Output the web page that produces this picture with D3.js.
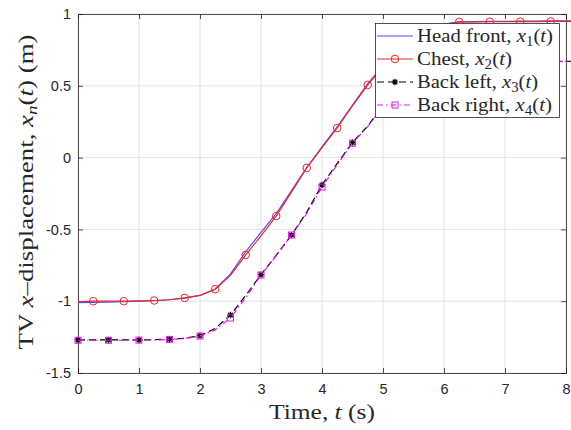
<!DOCTYPE html>
<html>
<head>
<meta charset="utf-8">
<script src="https://cdn.jsdelivr.net/npm/d3@7"></script>
<style>
  body { margin: 0; background: #fff; }
  svg { display: block; }
</style>
</head>
<body>
<svg id="chart"></svg>
<script>
// sample times (s); last point runs just past the axis edge like the original
const times = [0, 0.25, 0.5, 0.75, 1, 1.25, 1.5, 1.75, 2, 2.25, 2.5, 2.75, 3, 3.25, 3.5, 3.75,
  4, 4.25, 4.5, 4.75, 5, 5.25, 5.5, 5.75, 6, 6.25, 6.5, 6.75, 7, 7.25, 7.5, 7.75, 8, 8.1];

const headFront = [-1.01, -1.008, -1.006, -1.004, -1.0, -0.997, -0.99, -0.978, -0.96, -0.915, -0.81, -0.655,
  -0.52, -0.39, -0.23, -0.07, 0.075, 0.215, 0.365, 0.515, 0.64, 0.75, 0.835, 0.895, 0.93, 0.945,
  0.947, 0.948, 0.949, 0.95, 0.951, 0.952, 0.952, 0.952];
const chest = [-1.005, -1.0, -1.0, -1.0, -0.998, -0.995, -0.99, -0.977, -0.96, -0.916, -0.82, -0.678,
  -0.545, -0.407, -0.24, -0.072, 0.07, 0.206, 0.36, 0.506, 0.63, 0.74, 0.83, 0.89, 0.925, 0.945,
  0.945, 0.946, 0.946, 0.947, 0.947, 0.948, 0.948, 0.948];
const backLeft = [-1.27, -1.27, -1.27, -1.27, -1.27, -1.268, -1.265, -1.258, -1.24, -1.19, -1.096, -0.96,
  -0.815, -0.68, -0.54, -0.38, -0.19, -0.04, 0.105, 0.22, 0.36, 0.47, 0.56, 0.62, 0.655, 0.665,
  0.67, 0.67, 0.67, 0.67, 0.67, 0.67, 0.67, 0.67];
const backRight = [-1.272, -1.272, -1.272, -1.272, -1.271, -1.27, -1.266, -1.26, -1.243, -1.2, -1.117, -0.975,
  -0.818, -0.685, -0.539, -0.39, -0.205, -0.05, 0.1, 0.215, 0.355, 0.465, 0.555, 0.615, 0.65, 0.66,
  0.668, 0.668, 0.668, 0.668, 0.668, 0.668, 0.668, 0.668];

const xTicks = [0, 1, 2, 3, 4, 5, 6, 7, 8];
const yTicks = [-1.5, -1, -0.5, 0, 0.5, 1];

const series = [
  {name: "Head front, ", sub: "1", values: headFront, color: "#4d4dff", dash: null, marker: null, phase: 0, w: 136},
  {name: "Chest, ", sub: "2", values: chest, color: "#e8262b", dash: null, marker: "circle", phase: 1, w: 95},
  {name: "Back left, ", sub: "3", values: backLeft, color: "#000000", dash: "7,4", marker: "star", phase: 0, w: 121},
  {name: "Back right, ", sub: "4", values: backRight, color: "#e619e6", dash: "6,3,1.5,3", marker: "square", phase: 0, w: 135}
];

const W = 571, H = 430;
const margin = {left: 78, right: 5, top: 14, bottom: 57};
const svg = d3.select("#chart").attr("width", W).attr("height", H);

const x = d3.scaleLinear().domain([0, 8]).range([margin.left, W - margin.right]);
const y = d3.scaleLinear().domain([-1.5, 1]).range([H - margin.bottom, margin.top]);

const axisColor = "#262626";
const tickFont = "'Liberation Sans', Arial, sans-serif";
const serif = "'Liberation Serif', 'Times New Roman', serif";

// grid
const grid = svg.append("g");
grid.selectAll(".gx").data(xTicks).enter().append("line")
  .attr("x1", d => x(d)).attr("x2", d => x(d))
  .attr("y1", y(-1.5)).attr("y2", y(1))
  .attr("stroke", "#e3e3e3").attr("stroke-width", 1);
grid.selectAll(".gy").data(yTicks).enter().append("line")
  .attr("x1", x(0)).attr("x2", x(8))
  .attr("y1", d => y(d)).attr("y2", d => y(d))
  .attr("stroke", "#e3e3e3").attr("stroke-width", 1);

// axes (ticks pointing inward)
svg.append("g")
  .attr("transform", "translate(0," + y(-1.5) + ")")
  .call(d3.axisBottom(x).tickValues(xTicks).tickSize(-5).tickPadding(11).tickFormat(d3.format("d")));
svg.append("g")
  .attr("transform", "translate(" + x(0) + ",0)")
  .call(d3.axisLeft(y).tickValues(yTicks).tickSize(-5).tickPadding(7).tickFormat(d => d));
svg.append("g").attr("transform", "translate(0," + y(1) + ")")
  .call(d3.axisTop(x).tickValues(xTicks).tickSize(-5).tickFormat(""));
svg.append("g").attr("transform", "translate(" + x(8) + ",0)")
  .call(d3.axisRight(y).tickValues(yTicks).tickSize(-5).tickFormat(""));

svg.selectAll(".domain").attr("stroke", axisColor).attr("stroke-width", 0.8);
svg.selectAll(".tick line").attr("stroke", axisColor).attr("stroke-width", 0.8);
svg.selectAll(".tick text").attr("fill", axisColor)
  .style("font-family", tickFont).style("font-size", "14.5px");

// lines
svg.append("clipPath").attr("id", "clip").append("rect")
  .attr("x", x(0) - 6).attr("y", 0).attr("width", W).attr("height", H);
const plot = svg.append("g").attr("clip-path", "url(#clip)");

const line = d3.line().x((d, i) => x(times[i])).y(d => y(d));

function drawMarker(g, type, color, cx, cy) {
  if (type === "circle") {
    g.append("circle").attr("cx", cx).attr("cy", cy).attr("r", 3.8)
      .attr("fill", "none").attr("stroke", color).attr("stroke-width", 1);
  } else if (type === "square") {
    g.append("rect").attr("x", cx - 3).attr("y", cy - 3).attr("width", 6).attr("height", 6)
      .attr("fill", "none").attr("stroke", color).attr("stroke-width", 1);
  } else if (type === "star") {
    const s = 3.2;
    const p = "M" + (cx - s) + "," + cy + "L" + (cx + s) + "," + cy +
      "M" + cx + "," + (cy - s) + "L" + cx + "," + (cy + s) +
      "M" + (cx - s * 0.7) + "," + (cy - s * 0.7) + "L" + (cx + s * 0.7) + "," + (cy + s * 0.7) +
      "M" + (cx - s * 0.7) + "," + (cy + s * 0.7) + "L" + (cx + s * 0.7) + "," + (cy - s * 0.7);
    g.append("path").attr("d", p).attr("stroke", color).attr("stroke-width", 1.2).attr("fill", "none");
  }
}

series.forEach(s => {
  plot.append("path").datum(s.values)
    .attr("d", line)
    .attr("fill", "none")
    .attr("stroke", s.color)
    .attr("stroke-width", 1.2)
    .attr("stroke-dasharray", s.dash);
  if (s.marker) {
    const mg = plot.append("g");
    s.values.forEach((v, i) => {
      if (i % 2 === s.phase && times[i] < 8) drawMarker(mg, s.marker, s.color, x(times[i]), y(v));
    });
  }
});

// axis labels
const xl = svg.append("text")
  .attr("x", (x(0) + x(8)) / 2).attr("y", 419)
  .attr("text-anchor", "middle")
  .attr("textLength", 106).attr("lengthAdjust", "spacingAndGlyphs")
  .style("font-family", serif).style("font-size", "21px").attr("fill", axisColor);
xl.append("tspan").text("Time, ");
xl.append("tspan").style("font-style", "italic").text("t");
xl.append("tspan").text(" (s)");

const yl = svg.append("text")
  .attr("transform", "translate(33," + 192 + ") rotate(-90)")
  .attr("text-anchor", "middle")
  .attr("textLength", 315).attr("lengthAdjust", "spacingAndGlyphs")
  .style("font-family", serif).style("font-size", "21px").attr("fill", axisColor);
yl.append("tspan").text("TV ");
yl.append("tspan").style("font-style", "italic").text("x");
yl.append("tspan").text("\u2013displacement, ");
yl.append("tspan").style("font-style", "italic").text("x");
yl.append("tspan").style("font-style", "italic").style("font-size", "15px").attr("dy", 4).text("n");
yl.append("tspan").attr("dy", -4).text("(");
yl.append("tspan").style("font-style", "italic").text("t");
yl.append("tspan").text(") (m)");

// legend
const leg = svg.append("g");
leg.append("rect").attr("x", 375.5).attr("y", 23.5).attr("width", 184).attr("height", 94)
  .attr("fill", "#fff").attr("stroke", axisColor).attr("stroke-width", 0.8);
series.forEach((s, i) => {
  const cy = 36 + i * 23;
  leg.append("line").attr("x1", 377).attr("x2", 413).attr("y1", cy).attr("y2", cy)
    .attr("stroke", s.color).attr("stroke-width", 1.2).attr("stroke-dasharray", s.dash);
  if (s.marker) drawMarker(leg, s.marker, s.color, 395, cy);
  const t = leg.append("text").attr("x", 417).attr("y", cy + 6)
    .attr("textLength", s.w).attr("lengthAdjust", "spacingAndGlyphs")
    .style("font-family", serif).style("font-size", "19.5px").attr("fill", axisColor);
  t.append("tspan").text(s.name);
  t.append("tspan").style("font-style", "italic").text("x");
  t.append("tspan").style("font-size", "14px").attr("dy", 4).text(s.sub);
  t.append("tspan").attr("dy", -4).text("(");
  t.append("tspan").style("font-style", "italic").text("t");
  t.append("tspan").text(")");
});
</script>
</body>
</html>
